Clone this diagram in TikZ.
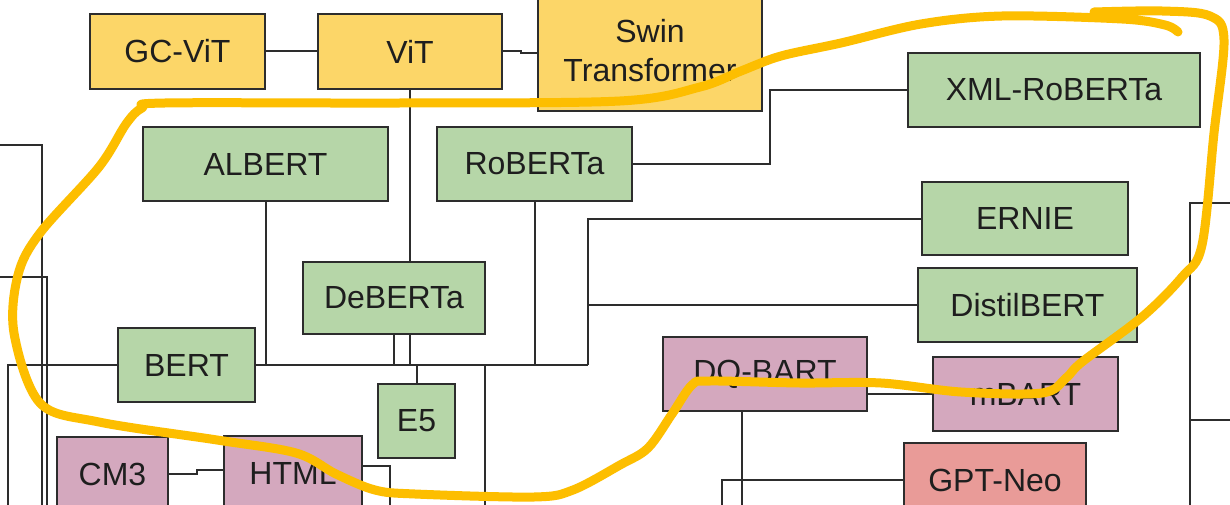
\documentclass[tikz,border=0pt]{standalone}
\usepackage{fontspec}
\setmainfont{Liberation Sans}
\usetikzlibrary{backgrounds}
\definecolor{yfill}{RGB}{252,214,104}
\definecolor{gfill}{RGB}{182,214,168}
\definecolor{pfill}{RGB}{212,168,190}
\definecolor{rfill}{RGB}{233,155,152}
\definecolor{edge}{RGB}{45,45,45}
\definecolor{txt}{RGB}{30,30,30}
\definecolor{hl}{RGB}{253,190,0}
\tikzset{
  box/.style={draw=edge, line width=1.8pt, inner sep=0pt, text=txt, align=center,
    font=\fontsize{32}{39}\selectfont},
  ybox/.style={box, fill=yfill},
  gbox/.style={box, fill=gfill},
  pbox/.style={box, fill=pfill},
  rbox/.style={box, fill=rfill},
  wire/.style={draw=edge, line width=2pt},
  mark pen/.style={draw=hl, line width=9pt, line cap=round, line join=round}
}
\begin{document}
\begin{tikzpicture}[x=1pt,y=-1pt]
\useasboundingbox (0,0) rectangle (1230,505);
\clip (0,0) rectangle (1230,505);
% boxes
\node[ybox, minimum width=175pt, minimum height=75pt] (gcvit) at (177.5,51.5) {GC-ViT};
\node[ybox, minimum width=184pt, minimum height=75pt] (vit) at (410,51.5) {ViT};
\node[ybox, minimum width=224pt, minimum height=121pt] (swin) at (650,50.5) {Swin\\Transformer};
\node[gbox, minimum width=245pt, minimum height=74pt] (albert) at (265.5,164) {ALBERT};
\node[gbox, minimum width=195pt, minimum height=74pt] (roberta) at (534.5,164) {RoBERTa};
\node[gbox, minimum width=292pt, minimum height=74pt] (xml) at (1054,90) {XML-RoBERTa};
\node[gbox, minimum width=206pt, minimum height=73pt] (ernie) at (1025,218.5) {ERNIE};
\node[gbox, minimum width=219pt, minimum height=74pt] (distil) at (1027.5,305) {DistilBERT};
\node[gbox, minimum width=182pt, minimum height=72pt] (deberta) at (394,298) {DeBERTa};
\node[gbox, minimum width=137pt, minimum height=74pt] (bert) at (186.5,365) {BERT};
\node[gbox, minimum width=77pt, minimum height=74pt] (e5) at (416.5,421) {E5};
\node[pbox, minimum width=111pt, minimum height=74pt] (cm3) at (112.5,474) {CM3};
\node[pbox, minimum width=138pt, minimum height=74pt] (html) at (293,473) {HTML};
\node[pbox, minimum width=204pt, minimum height=74pt] (dqbart) at (765,374) {DQ-BART};
\node[pbox, minimum width=185pt, minimum height=74pt] (mbart) at (1025.5,394) {mBART};
\node[rbox, minimum width=182pt, minimum height=74pt] (gptneo) at (995,480) {GPT-Neo};
% free ends and junctions
\coordinate (bus) at (588,365);
\coordinate (lA) at (0,145);
\coordinate (lB) at (0,277);
\coordinate (lC) at (8,365);
\coordinate (rA) at (1230,203);
\coordinate (rB) at (1230,420);
\coordinate (bot) at (0,520);
\begin{scope}[on background layer]
\fill[white] (0,0) rectangle (1230,505);
\draw[wire] (gcvit.east) -- (vit.west);
\draw[wire] (vit.east) -- ++(18,0) -- ++(0,2) -- (swin.west |- 0,53.5);
\draw[wire] (vit.south) -- (vit.south |- bus);
\draw[wire] (bert.east) -- (bus);
\draw[wire] (bert.west) -- (lC) -- (lC |- bot);
\draw[wire] (albert.south) -- (albert.south |- bus);
\draw[wire] (roberta.south) -- (roberta.south |- bus);
\draw[wire] (deberta.south) -- (deberta.south |- bus);
\draw[wire] (e5.north) -- (e5.north |- bus);
\draw[wire] (485,365) -- (485,520);
\draw[wire] (ernie.west) -- (bus |- ernie.west) -- (bus);
\draw[wire] (distil.west) -- (bus |- distil.west);
\draw[wire] (roberta.east) -- (770,164) -- (770,90) -- (xml.west);
\draw[wire] (mbart.west) -- (dqbart.east |- mbart.west);
\draw[wire] (742,411) -- (742,520);
\draw[wire] (gptneo.west) -- (722,480) -- (722,520);
\draw[wire] (cm3.east |- 0,474) -- (197,474) -- (197,470) -- (html.west |- 0,470);
\draw[wire] (html.east |- 0,466) -- (390,466) -- (390,520);
\draw[wire] (lA) -- (42,145) -- (42,520);
\draw[wire] (lB) -- (47,277) -- (47,520);
\draw[wire] (rA) -- (1190,203) -- (1190,520);
\draw[wire] (1190,420) -- (rB);
\end{scope}
% highlighter loop
\draw[mark pen] plot[smooth, tension=0.55] coordinates {
 (1178,32) (1165,25) (1122,19) (1002,16) (921,24) (841,43) (781,56) (741,71) (700,87)
 (620,101) (400,103) (165,103) (142,108) (126,124) (99,167) (40,233) (18,275) (14,333)
 (40,403) (99,422) (217,440) (296,453) (336,474) (375,490) (415,494) (534,497)
 (573,490) (620,465) (648,448) (672,414) (692,385) (710,381) (800,383) (881,383)
 (961,392) (1042,393) (1066,378) (1082,362) (1142,317) (1182,277) (1202,245)
 (1214,133) (1224,40) (1210,16) (1162,11) (1094,12)};
\end{tikzpicture}
\end{document}
